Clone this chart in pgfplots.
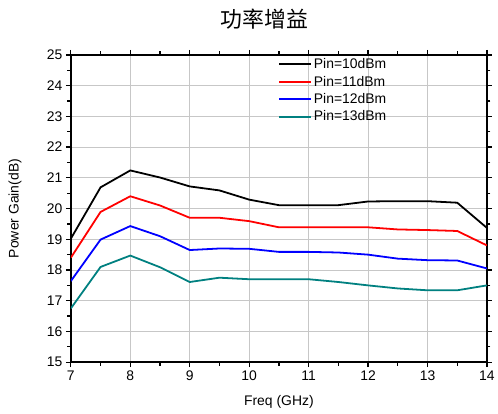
\documentclass[border=0pt]{standalone}
\usepackage{pgfplots}
\pgfplotsset{compat=1.18}
\usepackage{fontspec}
\setmainfont{Liberation Sans}
\newfontfamily\cjk{Noto Sans CJK SC}
\definecolor{tealc}{RGB}{0,128,128}
\begin{document}
\begin{tikzpicture}
\begin{axis}[
  scale only axis, width=417bp, height=308bp,
  xmin=7, xmax=14, ymin=15, ymax=25,
  xtick={7,8,...,14}, ytick={15,16,...,25},
  minor x tick num=1, minor y tick num=1,
  tick align=outside, tick pos=both,
  major tick length=5bp, minor tick length=3.5bp,
  grid=major, major grid style={black!22, line width=0.9pt},
  axis line style={line width=1.6pt},
  every tick/.style={black, line width=1.3pt},
  /pgf/number format/assume math mode=true,
  tick label style={font=\fontsize{14}{16}\selectfont},
  label style={font=\fontsize{14}{16}\selectfont},
  xlabel={Freq (GHz)}, ylabel={Power Gain(dB)},
  ylabel style={at={(axis description cs:-0.134,0.5)}, anchor=center},
  xlabel style={at={(axis description cs:0.5,-0.13)}, anchor=center},
  title={\cjk 功率增益},
  title style={font=\fontsize{22}{24}\selectfont, at={(axis description cs:0.465,1)}, anchor=center, yshift=30bp},
  legend style={draw=none, fill=none, at={(0.495,0.998)}, anchor=north west,
    font=\fontsize{14}{16}\selectfont, row sep=1.8bp, inner sep=1bp},
  legend cell align=left,
  legend image code/.code={\draw[#1, line width=2pt] (0bp,0bp) -- (32bp,0bp);},
  every axis plot/.append style={line width=1.8pt, no markers},
]
\addplot[black] coordinates {(7,19.02) (7.5,20.69) (8,21.24) (8.5,21.01) (9,20.72) (9.5,20.59) (10,20.29) (10.5,20.11) (11,20.11) (11.5,20.11) (12,20.23) (12.5,20.24) (13,20.24) (13.5,20.19) (14,19.37)};
\addlegendentry{Pin=10dBm}
\addplot[red] coordinates {(7,18.40) (7.5,19.89) (8,20.40) (8.5,20.10) (9,19.70) (9.5,19.70) (10,19.59) (10.5,19.39) (11,19.39) (11.5,19.39) (12,19.39) (12.5,19.32) (13,19.30) (13.5,19.27) (14,18.80)};
\addlegendentry{Pin=11dBm}
\addplot[blue] coordinates {(7,17.64) (7.5,18.99) (8,19.43) (8.5,19.10) (9,18.65) (9.5,18.70) (10,18.69) (10.5,18.59) (11,18.59) (11.5,18.57) (12,18.50) (12.5,18.37) (13,18.32) (13.5,18.31) (14,18.05)};
\addlegendentry{Pin=12dBm}
\addplot[tealc] coordinates {(7,16.75) (7.5,18.10) (8,18.47) (8.5,18.09) (9,17.61) (9.5,17.75) (10,17.70) (10.5,17.70) (11,17.70) (11.5,17.61) (12,17.50) (12.5,17.40) (13,17.34) (13.5,17.34) (14,17.50)};
\addlegendentry{Pin=13dBm}
\end{axis}
\path (current axis.south west) ++(-71bp,-51bp) rectangle ([shift={(10bp,55bp)}]current axis.north east);
\end{tikzpicture}
\end{document}
